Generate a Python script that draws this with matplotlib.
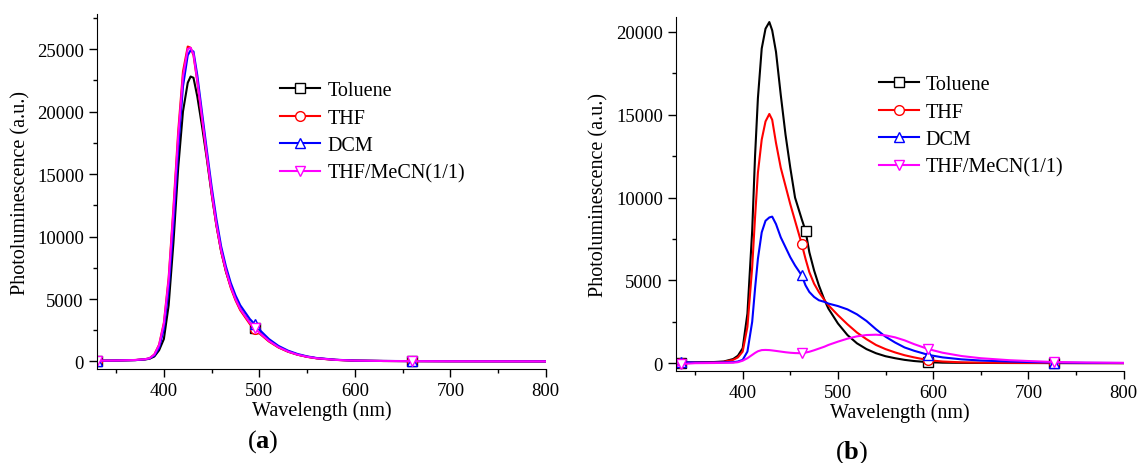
import numpy as np
import matplotlib
matplotlib.use("Agg")
import matplotlib.pyplot as plt
from matplotlib.ticker import MultipleLocator

plt.rcParams['font.family'] = ['Liberation Serif', 'DejaVu Serif']
plt.rcParams['mathtext.fontset'] = 'custom'
plt.rcParams['mathtext.rm'] = 'Liberation Serif'
plt.rcParams['mathtext.bf'] = 'Liberation Serif:bold'

# panel (a)
wl_a = [330, 350, 370, 380, 385, 390, 395, 400, 405, 410, 415, 420, 425, 428, 431, 435, 440,
        445, 450, 455, 460, 465, 470, 475, 480, 490, 495, 500, 510, 520, 530, 540, 550, 560,
        580, 600, 630, 660, 700, 750, 800]
tol_a = [60, 80, 110, 160, 220, 400, 900, 1800, 4500, 9500, 15500, 20000, 22300, 22800, 22700,
         21200, 18800, 16200, 13400, 10900, 8800, 7200, 6000, 5000, 4200, 3100, 2700, 2300, 1650,
         1150, 800, 550, 380, 260, 130, 70, 40, 30, 20, 15, 10]
thf_a = [60, 80, 120, 180, 260, 560, 1350, 3100, 6700, 12300, 18400, 23200, 25200, 25100, 24500,
         22400, 19400, 16400, 13500, 10900, 8800, 7200, 5900, 4900, 4100, 3000, 2600, 2250, 1600,
         1120, 780, 540, 370, 250, 125, 70, 40, 30, 20, 15, 10]
dcm_a = [60, 80, 110, 170, 240, 480, 1100, 2600, 5800, 10800, 17000, 22000, 24500, 24900, 24800,
         22900, 19900, 16900, 14000, 11400, 9200, 7600, 6300, 5300, 4500, 3400, 3000, 2550, 1800,
         1250, 870, 600, 410, 280, 140, 75, 45, 30, 20, 15, 10]
mix_a = [60, 80, 120, 180, 260, 550, 1300, 3000, 6500, 12000, 18000, 22800, 25000, 25100, 24600,
         22500, 19500, 16500, 13600, 11000, 8900, 7300, 6000, 5000, 4200, 3100, 2700, 2300, 1650,
         1150, 800, 550, 380, 260, 130, 70, 40, 30, 20, 15, 10]
marks_a = [330, 495, 660]

# panel (b)
wl_b = [330, 335, 350, 370, 380, 390, 395, 400, 405, 410, 413, 416, 420, 424, 428, 431, 435, 440,
        445, 450, 455, 462, 466, 470, 475, 480, 486, 490, 500, 510, 520, 530, 540, 550, 560, 570,
        580, 595, 610, 630, 650, 680, 700, 727, 760, 800]
tol_b = [30, 40, 50, 70, 100, 250, 450, 900, 3000, 8000, 12500, 16000, 19000, 20200, 20600, 20100,
         18800, 16200, 13800, 11800, 10000, 8700, 8000, 6700, 5600, 4700, 3800, 3300, 2400, 1700,
         1200, 850, 600, 420, 300, 200, 130, 60, 30, 20, 15, 10, 8, 5, 3, 2]
thf_b = [20, 30, 40, 60, 80, 200, 350, 700, 2200, 5800, 8800, 11500, 13500, 14600, 15050, 14700,
         13300, 11800, 10700, 9600, 8600, 7200, 6300, 5500, 4800, 4300, 3800, 3500, 2900, 2350,
         1850, 1450, 1100, 850, 650, 480, 350, 180, 100, 50, 30, 20, 15, 10, 5, 3]
dcm_b = [200, 60, 40, 40, 50, 60, 100, 200, 700, 2500, 4500, 6300, 7900, 8600, 8800, 8850, 8400,
         7600, 7000, 6400, 5900, 5300, 4700, 4300, 4000, 3800, 3700, 3600, 3450, 3250, 2950, 2550,
         2050, 1600, 1250, 950, 750, 500, 350, 230, 160, 100, 70, 40, 20, 10]
mix_b = [-200, -50, 0, 10, 20, 30, 60, 150, 300, 500, 620, 720, 790, 800, 790, 770, 740, 700, 660,
         630, 610, 600, 640, 690, 780, 880, 1000, 1100, 1300, 1480, 1620, 1700, 1720, 1680, 1560,
         1380, 1150, 850, 630, 430, 300, 180, 130, 70, 40, 20]
marks_b = [335, 462, 595, 727]
marks_b_tol = [335, 466, 595, 727]

labels = ['Toluene', 'THF', 'DCM', 'THF/MeCN(1/1)']
colors = ['black', 'red', 'blue', 'magenta']
markers = ['s', 'o', '^', 'v']

fig = plt.figure(figsize=(11.39, 4.64), dpi=100)
ax1 = fig.add_axes([0.0852, 0.2026, 0.394, 0.765])
ax2 = fig.add_axes([0.5935, 0.198, 0.393, 0.763])


def draw(ax, wl, series, marks_list):
    for ys, lab, c, m, mk in zip(series, labels, colors, markers, marks_list):
        idx = [wl.index(v) for v in mk]
        ax.plot(wl, ys, color=c, lw=1.5, marker=m, markevery=idx, ms=7,
                mfc='white', mec=c, mew=1.0, label=lab)
    ax.set_xlim(330, 800)
    ax.xaxis.set_major_locator(MultipleLocator(100))
    ax.xaxis.set_minor_locator(MultipleLocator(50))
    for s in ['top', 'right']:
        ax.spines[s].set_visible(False)
    ax.tick_params(which='major', direction='out', length=6, width=1, labelsize=13.5)
    ax.tick_params(which='minor', direction='out', length=3, width=1)
    ax.set_xlabel('Wavelength (nm)', fontsize=14.5, labelpad=1)
    ax.set_ylabel('Photoluminescence (a.u.)', fontsize=14.5, labelpad=5)


draw(ax1, wl_a, [tol_a, thf_a, dcm_a, mix_a], [marks_a] * 4)
ax1.set_ylim(-600, 27800)
ax1.yaxis.set_major_locator(MultipleLocator(5000))
ax1.yaxis.set_minor_locator(MultipleLocator(2500))
ax1.legend(frameon=False, fontsize=14.5, handlelength=2.0, handletextpad=0.35,
           labelspacing=0.42, borderpad=0, loc='upper left', bbox_to_anchor=(0.385, 0.84))

draw(ax2, wl_b, [tol_b, thf_b, dcm_b, mix_b], [marks_b_tol, marks_b, marks_b, marks_b])
ax2.set_ylim(-480, 20900)
ax2.yaxis.set_major_locator(MultipleLocator(5000))
ax2.yaxis.set_minor_locator(MultipleLocator(2500))
ax2.legend(frameon=False, fontsize=14.5, handlelength=2.0, handletextpad=0.35,
           labelspacing=0.42, borderpad=0, loc='upper left', bbox_to_anchor=(0.43, 0.865))

fig.text(0.231, 0.035, r'($\mathbf{a}$)', fontsize=19, ha='center')
fig.text(0.748, 0.012, r'($\mathbf{b}$)', fontsize=19, ha='center')

fig.savefig('out.png', dpi=100)
